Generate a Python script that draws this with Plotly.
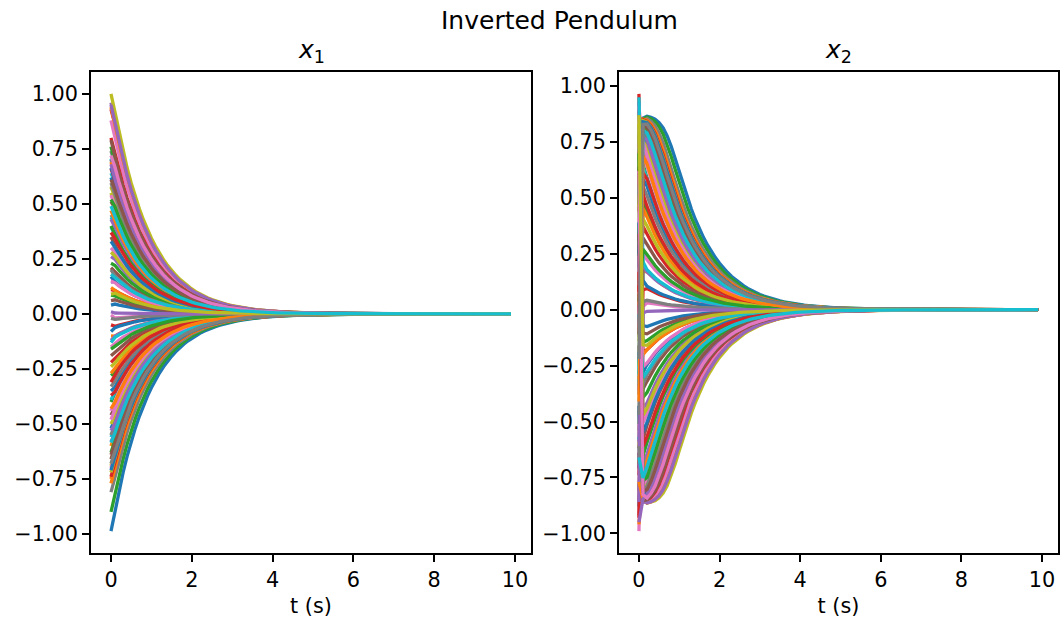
import numpy as np
import plotly.graph_objects as go

# matplotlib "tab10" colour cycle
COLORS = ["#1f77b4", "#ff7f0e", "#2ca02c", "#d62728", "#9467bd",
          "#8c564b", "#e377c2", "#7f7f7f", "#bcbd22", "#17becf"]

# initial conditions of the 100 rollouts (x1 = angle, x2 = angular rate)
x1_init = [
    -0.987, -0.10, -0.90, 0.93, 0.96, 0.51, 0.88, 0.74, 1.00, 0.706,
    -0.35, -0.60, -0.40, 0.80, 0.26, 0.35, 0.30, -0.81, 0.58, 0.64,
    0.04, -0.75, -0.28, 0.11, 0.145, 0.21, -0.005, 0.45, 0.55, 0.44,
    0.17, 0.94, 0.085, -0.05, 0.43, -0.66, -0.15, -0.33, -0.69, -0.56,
    -0.52, 0.47, 0.23, -0.22, -0.58, -0.46, -0.44, 0.20, -0.50, -0.39,
    0.62, -0.27, 0.76, -0.31, 0.95, 0.79, -0.70, -0.55, 0.28, 0.395,
    -0.08, 0.12, -0.63, -0.37, -0.12, -0.19, 0.54, 0.70, -0.24, -0.13,
    0.33, -0.77, 0.40, 0.66, -0.53, 0.06, 0.15, -0.02, 0.575, 0.18,
    0.665, 0.69, -0.16, -0.74, 0.01, -0.64, -0.48, 0.595, -0.72, -0.585,
    -0.71, -0.43, 0.52, 0.37, 0.68, 0.61, 0.72, -0.68, 0.09, 0.49,
]
x2_init = [
    0.31, -0.62, 0.12, 0.965, -0.45, 0.78, -0.27, 0.05, 0.54, -0.83,
    -0.71, 0.44, 0.89, -0.16, 0.63, -0.92, 0.21, -0.38, 0.07, 0.72,
    0.58, -0.05, -0.54, 0.36, 0.93, -0.21, -0.99, 0.49, -0.67, 0.15,
    -0.88, 0.69, 0.27, -0.74, 0.02, 0.85, 0.41, -0.12, 0.76, -0.34,
    0.19, -0.96, 0.61, 0.08, -0.59, 0.33, 0.91, -0.81, -0.25, 0.52,
    -0.43, 0.13, -0.78, 0.71, 0.26, -0.64, -0.09, 0.67, 0.38, -0.57,
    0.82, -0.31, 0.47, -0.93, 0.74, 0.09, -0.51, 0.29, -0.14, 0.95,
    -0.19, 0.56, -0.69, 0.17, -0.86, 0.64, 0.24, -0.47, 0.87, -0.02,
    0.39, -0.77, 0.04, 0.59, -0.36, -0.11, 0.81, -0.61, 0.46, -0.29,
    0.25, -0.41, 0.70, 0.11, -0.95, 0.34, 0.62, -0.22, 0.83, -0.66,
]

# sampling of the logged trajectories
N_SAMPLES = 100
SAMPLE_DT = 0.1
x_ticks = [0, 2, 4, 6, 8, 10]
y_ticks = [-1.0, -0.75, -0.5, -0.25, 0.0, 0.25, 0.5, 0.75, 1.0]

# closed-loop model parameters
DECAY = 1.08      # slow convergence rate of the angle
SAT = 0.87        # saturation level of the rate
GAIN = 2.1
SHARP = 6.0
FAST = 40.0       # fast rate-loop bandwidth
COUPLING = 0.6


def rate_target(x1):
    z = GAIN * x1
    return -SAT * z / (1.0 + np.abs(z) ** SHARP) ** (1.0 / SHARP)


def rhs(x1, x2):
    h = rate_target(x1)
    return -DECAY * x1 + COUPLING * (x2 - h), -FAST * (x2 - h)


def simulate(x10, x20, substeps=20):
    x1 = np.array(x10, dtype=float)
    x2 = np.array(x20, dtype=float)
    dt = SAMPLE_DT / substeps
    out1, out2 = [x1.copy()], [x2.copy()]
    for _ in range(N_SAMPLES - 1):
        for _ in range(substeps):
            k1a, k1b = rhs(x1, x2)
            k2a, k2b = rhs(x1 + 0.5 * dt * k1a, x2 + 0.5 * dt * k1b)
            k3a, k3b = rhs(x1 + 0.5 * dt * k2a, x2 + 0.5 * dt * k2b)
            k4a, k4b = rhs(x1 + dt * k3a, x2 + dt * k3b)
            x1 = x1 + dt / 6 * (k1a + 2 * k2a + 2 * k3a + k4a)
            x2 = x2 + dt / 6 * (k1b + 2 * k2b + 2 * k3b + k4b)
        out1.append(x1.copy())
        out2.append(x2.copy())
    return np.array(out1).T, np.array(out2).T


t = np.arange(N_SAMPLES) * SAMPLE_DT
X1, X2 = simulate(x1_init, x2_init)


def auto_range(arr, margin=0.05):
    lo, hi = float(np.min(arr)), float(np.max(arr))
    pad = (hi - lo) * margin
    return [lo - pad, hi + pad]


fig = go.Figure()
for i in range(len(x1_init)):
    col = COLORS[i % 10]
    fig.add_trace(go.Scatter(x=t, y=X1[i], mode="lines",
                             line=dict(color=col, width=3.3),
                             xaxis="x", yaxis="y", showlegend=False,
                             hoverinfo="skip"))
    fig.add_trace(go.Scatter(x=t, y=X2[i], mode="lines",
                             line=dict(color=col, width=3.3),
                             xaxis="x2", yaxis="y2", showlegend=False,
                             hoverinfo="skip"))

W, H = 1060, 622
FONT = "DejaVu Sans"
TICK_SIZE = 20.8


def fmt(v):
    s = f"{v:.2f}"
    return s.replace("-", "\u2212")


axis_common = dict(showgrid=False, zeroline=False, showline=True, mirror=True,
                   linecolor="black", linewidth=1.7, ticks="outside",
                   ticklen=7, tickwidth=1.7, tickcolor="black",
                   tickfont=dict(family=FONT, size=TICK_SIZE, color="black"))

t_range = auto_range(t)
y1_range = auto_range(X1)
y2_range = auto_range(X2)

fig.update_layout(
    width=W, height=H,
    margin=dict(l=0, r=0, t=0, b=0),
    paper_bgcolor="white", plot_bgcolor="white",
    font=dict(family=FONT, color="black"),
    xaxis=dict(axis_common, domain=[91 / W, 531 / W], range=t_range,
               tickvals=x_ticks, anchor="y",
               title=dict(text="t (s)", font=dict(size=TICK_SIZE), standoff=8)),
    yaxis=dict(axis_common, domain=[1 - 553 / H, 1 - 72 / H], range=y1_range,
               tickvals=y_ticks, ticktext=[fmt(v) for v in y_ticks], anchor="x"),
    xaxis2=dict(axis_common, domain=[619 / W, 1058 / W], range=t_range,
                tickvals=x_ticks, anchor="y2",
                title=dict(text="t (s)", font=dict(size=TICK_SIZE), standoff=8)),
    yaxis2=dict(axis_common, domain=[1 - 553 / H, 1 - 72 / H], range=y2_range,
                tickvals=y_ticks, ticktext=[fmt(v) for v in y_ticks], anchor="x2"),
    annotations=[
        dict(text="Inverted Pendulum", x=559 / W, y=1 - 21 / H, xref="paper",
             yref="paper", xanchor="center", yanchor="middle", showarrow=False,
             font=dict(family=FONT, size=25, color="black")),
        dict(text="<i>x</i><sub>1</sub>", x=311 / W, y=1 - 51 / H, xref="paper",
             yref="paper", xanchor="center", yanchor="middle", showarrow=False,
             font=dict(family=FONT, size=25, color="black")),
        dict(text="<i>x</i><sub>2</sub>", x=838.5 / W, y=1 - 51 / H, xref="paper",
             yref="paper", xanchor="center", yanchor="middle", showarrow=False,
             font=dict(family=FONT, size=25, color="black")),
    ],
)

fig.write_html("out.html")
